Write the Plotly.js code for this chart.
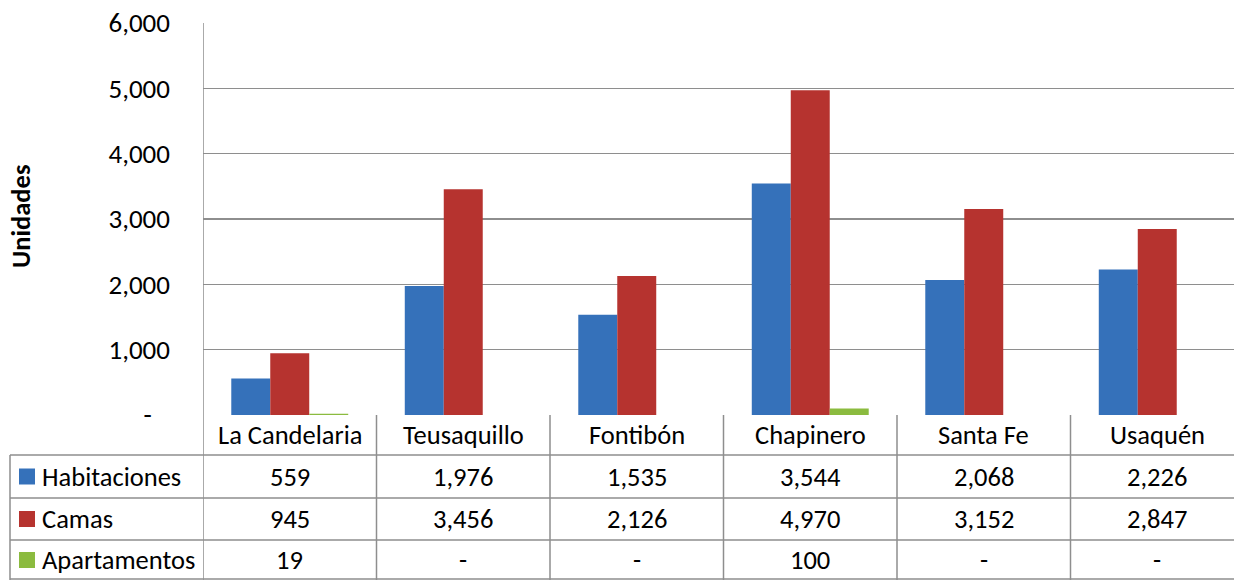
<!DOCTYPE html>
<html>
<head>
<meta charset="utf-8">
<script src="https://cdn.plot.ly/plotly-3.0.1.min.js"></script>
<style>html,body{margin:0;padding:0;background:#fff;}#chart{width:1234px;height:580px;}</style>
</head>
<body>
<div id="chart"></div>
<script>
const categories = ['La Candelaria', 'Teusaquillo', 'Fontibón', 'Chapinero', 'Santa Fe', 'Usaquén'];
const seriesNames = ['Habitaciones', 'Camas', 'Apartamentos'];
const habitaciones = [559, 1976, 1535, 3544, 2068, 2226];
const camas = [945, 3456, 2126, 4970, 3152, 2847];
const apartamentos = [19, 0, 0, 100, 0, 0];
const tableText = {
  Habitaciones: ['559', '1,976', '1,535', '3,544', '2,068', '2,226'],
  Camas: ['945', '3,456', '2,126', '4,970', '3,152', '2,847'],
  Apartamentos: ['19', '-', '-', '100', '-', '-']
};
const yTickVals = [0, 1000, 2000, 3000, 4000, 5000, 6000];
const yTickText = ['-\u00a0\u00a0\u00a0', '1,000', '2,000', '3,000', '4,000', '5,000', '6,000'];

const colors = ['#3571ba', '#b6332f', '#8bbb3f'];
const FONT = 'Carlito, Lato, "Open Sans", sans-serif';
const W = 1234, H = 580;
const L = 203, T = 23, B = 415, R = 1234;
const CAT_W = 173.5; // px per category (chart is cropped on the right)
const px = p => (p - L) / (R - L);
const py = p => (B - p) / (B - T);
const lineCol = '#8e8e8e';
const TS = 26.5;

const values = [habitaciones, camas, apartamentos];
const traces = seriesNames.map((n, i) => ({
  type: 'bar', name: n, x: categories, y: values[i],
  marker: {color: colors[i], line: {width: 0}},
  hoverinfo: 'x+y'
}));

const shapes = [];
const annotations = [];
const rowY = [455, 498, 540, 579];
rowY.forEach(y => shapes.push({type: 'line', xref: 'paper', yref: 'paper', x0: px(10), x1: px(1234), y0: py(y), y1: py(y), line: {color: lineCol, width: 1.5}}));
shapes.push({type: 'line', xref: 'paper', yref: 'paper', x0: px(10), x1: px(10), y0: py(455), y1: py(580), line: {color: lineCol, width: 1.5}});
for (let i = 0; i <= categories.length; i++) {
  shapes.push({type: 'line', xref: 'x', yref: 'paper', x0: i - 0.5, x1: i - 0.5, y0: i === 0 ? 1 : 0, y1: py(580), line: {color: lineCol, width: 1.5}});
}
categories.forEach(c => annotations.push({xref: 'x', yref: 'paper', x: c, y: py(435), text: c, showarrow: false, font: {family: FONT, size: TS, color: '#000'}, xanchor: 'center', yanchor: 'middle'}));
const rowCenters = [476.5, 519, 560];
seriesNames.forEach((n, i) => {
  shapes.push({type: 'rect', xref: 'paper', yref: 'paper', x0: px(19), x1: px(35), y0: py(rowCenters[i] - 8), y1: py(rowCenters[i] + 8), fillcolor: colors[i], line: {width: 0}});
  annotations.push({xref: 'paper', yref: 'paper', x: px(40), y: py(rowCenters[i]), text: n, showarrow: false, xanchor: 'left', yanchor: 'middle', font: {family: FONT, size: TS, color: '#000'}});
  categories.forEach((c, j) => annotations.push({xref: 'x', yref: 'paper', x: c, y: py(rowCenters[i]), text: tableText[n][j], showarrow: false, xanchor: 'center', yanchor: 'middle', font: {family: FONT, size: TS, color: '#000'}}));
});
annotations.push({xref: 'paper', yref: 'paper', x: px(21), y: py(217), text: '<b>Unidades</b>', textangle: -90, showarrow: false, xanchor: 'center', yanchor: 'middle', font: {family: FONT, size: 26.5, color: '#000'}});

const layout = {
  width: W, height: H,
  margin: {l: L, r: W - R, t: T, b: H - B, pad: 0},
  paper_bgcolor: '#fff', plot_bgcolor: '#fff',
  showlegend: false,
  barmode: 'group', bargap: 0.326, bargroupgap: 0,
  font: {family: FONT, size: TS, color: '#000'},
  xaxis: {type: 'category', categoryorder: 'array', categoryarray: categories, range: [-0.5, -0.5 + (R - L) / CAT_W], showticklabels: false, showgrid: false, zeroline: false, showline: false, ticks: ''},
  yaxis: {range: [0, 6000], tickvals: yTickVals, ticktext: yTickText, showgrid: true, gridcolor: lineCol, gridwidth: 1.5, zeroline: false, showline: false, ticks: '', ticklabelstandoff: 32, tickfont: {family: FONT, size: 27, color: '#000'}},
  shapes: shapes, annotations: annotations
};
Plotly.newPlot('chart', traces, layout, {displayModeBar: false, staticPlot: true});
</script>
</body>
</html>
